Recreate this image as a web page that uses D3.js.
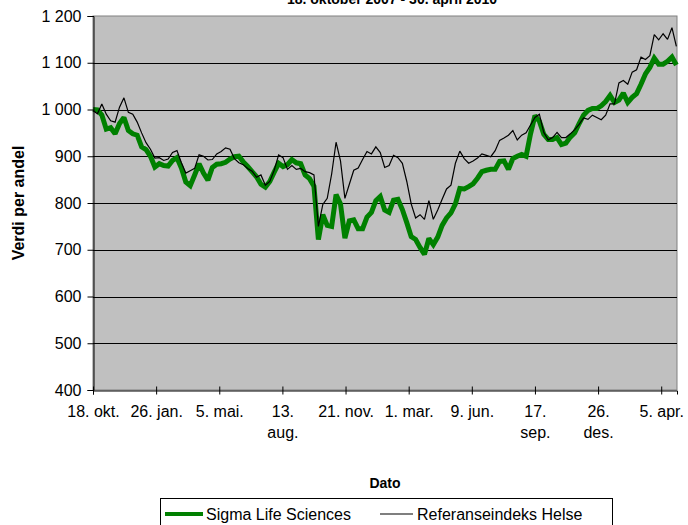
<!DOCTYPE html>
<html>
<head>
<meta charset="utf-8">
<script src="https://cdn.jsdelivr.net/npm/d3@7"></script>
<style>
  body { margin: 0; background: #fff; }
  svg { display: block; font-family: "Liberation Sans", Arial, sans-serif; }
</style>
</head>
<body>
<svg width="688" height="525"></svg>
<script>
// ukentlige verdier, start 18.10.2007
const startDato = "2007-10-18";
const sluttDato = "2010-04-30";

const sigma = [
  1000, 999, 988, 958, 961, 948, 970, 983, 955, 948,
  945, 920, 914, 900, 877, 884, 880, 879, 891, 897,
  875, 845, 837, 860, 884, 864, 849, 876, 883, 884,
  887, 894, 899, 900, 888, 878, 867, 856, 840, 834,
  846, 866, 885, 878, 882, 893, 886, 884, 860, 852,
  836, 722, 775, 752, 750, 818, 798, 725, 762, 764,
  745, 745, 770, 780, 805, 814, 785, 780, 806, 808,
  786, 758, 728, 722, 705, 690, 724, 711, 727, 752,
  768, 779, 798, 831, 830, 835, 841, 853, 867, 870,
  872, 872, 889, 890, 872, 895, 900, 904, 900, 948,
  987, 975, 947, 936, 936, 940, 925, 928, 941, 950,
  970, 988, 998, 1002, 1002, 1008, 1017, 1030, 1015, 1020,
  1035, 1015, 1026, 1034, 1054, 1076, 1090, 1110, 1097, 1097,
  1103, 1112, 1095
];

const referanse = [
  998, 991, 1012, 990, 976, 973, 1005, 1025, 994, 990,
  973, 950, 929, 915, 896, 897, 891, 894, 908, 912,
  886, 864, 869, 874, 903, 900, 892, 893, 905, 910,
  918, 915, 895, 886, 882, 874, 868, 855, 860, 838,
  846, 870, 903, 897, 872, 880, 872, 874, 867, 865,
  860, 750, 797, 810, 862, 930, 890, 810, 840, 870,
  875, 893, 910, 905, 920, 908, 876, 880, 902, 897,
  885, 846, 798, 768, 775, 765, 805, 765, 785, 808,
  830, 838, 885, 911, 895, 885, 890, 896, 905, 902,
  899, 912, 934, 939, 945, 955, 935, 945, 950, 967,
  983, 990, 951, 935, 940, 951, 940, 940, 948, 957,
  968, 982, 979, 988, 983, 978, 988, 1012, 1012, 1057,
  1062, 1054, 1080, 1085, 1112, 1107, 1115, 1160, 1149, 1162,
  1150, 1175, 1135
];

const xTickDatoer = ["2007-10-18", "2008-01-26", "2008-05-05", "2008-08-13", "2008-11-21",
                     "2009-03-01", "2009-06-09", "2009-09-17", "2009-12-26", "2010-04-05"];
const xTickTekst = [["18. okt."], ["26. jan."], ["5. mai."], ["13.", "aug."], ["21. nov."],
                    ["1. mar."], ["9. jun."], ["17.", "sep."], ["26.", "des."], ["5. apr."]];
const yTicks = [400, 500, 600, 700, 800, 900, 1000, 1100, 1200];
const yTickTekst = ["400", "500", "600", "700", "800", "900", "1 000", "1 100", "1 200"];

const serier = [
  { navn: "Sigma Life Sciences", verdier: sigma, farge: "#008000", bredde: 5 },
  { navn: "Referanseindeks Helse", verdier: referanse, farge: "#000000", bredde: 1.2 }
];

const parse = d3.timeParse("%Y-%m-%d");
const datoer = d3.timeDay.range(parse(startDato), parse(sluttDato), 7);

const svg = d3.select("svg");
const area = { left: 93, right: 677, top: 16, bottom: 390 };

const scX = d3.scaleTime()
    .domain([parse(startDato), parse(sluttDato)])
    .range([area.left, area.right]);
const scY = d3.scaleLinear()
    .domain([400, 1200])
    .range([area.bottom, area.top]);

// tittel (delvis utenfor bildet, som i originalen)
svg.append("text")
    .attr("x", 392).attr("y", 4)
    .attr("text-anchor", "middle")
    .style("font-weight", "bold").style("font-size", "14px")
    .text("18. oktober 2007 - 30. april 2010");

// plottområde
svg.append("rect")
    .attr("x", area.left).attr("y", area.top)
    .attr("width", area.right - area.left).attr("height", area.bottom - area.top)
    .attr("fill", "#c0c0c0").attr("stroke", "#808080");

svg.append("g")
    .selectAll("line")
    .data(yTicks.slice(1, -1)).enter()
    .append("line")
    .attr("x1", area.left).attr("x2", area.right)
    .attr("y1", d => Math.round(scY(d)) + 0.5).attr("y2", d => Math.round(scY(d)) + 0.5)
    .attr("stroke", "#000");

// linjer
const linje = d3.line()
    .x((d, i) => scX(datoer[i]))
    .y(d => scY(d));

for (let s of serier) {
    svg.append("path")
        .attr("d", linje(s.verdier))
        .attr("fill", "none")
        .attr("stroke", s.farge)
        .attr("stroke-width", s.bredde)
        .attr("stroke-linejoin", "miter")
        .attr("stroke-miterlimit", 2);
}

// akser
const axisX = d3.axisBottom(scX)
    .tickValues(xTickDatoer.map(parse))
    .tickSize(4)
    .tickFormat("");
const gx = svg.append("g")
    .attr("transform", `translate(0, ${area.bottom + 0.5})`)
    .call(axisX);
gx.select(".domain").attr("stroke", "#000");
gx.selectAll(".tick line").attr("y1", -4).attr("y2", 4).attr("stroke", "#000");
gx.selectAll(".tick").each(function(d, i) {
    const t = d3.select(this).append("text")
        .attr("fill", "#000")
        .style("font-size", "16px")
        .attr("text-anchor", "middle")
        .attr("y", 26);
    xTickTekst[i].forEach((l, k) => {
        t.append("tspan").attr("x", 0).attr("dy", k === 0 ? 0 : 21).text(l);
    });
});

const axisY = d3.axisLeft(scY)
    .tickValues(yTicks)
    .tickSize(6)
    .tickPadding(6)
    .tickFormat((d, i) => yTickTekst[i]);
const gy = svg.append("g")
    .attr("transform", `translate(${area.left + 0.5}, 0)`)
    .call(axisY);
gy.select(".domain").attr("stroke", "#000");
gy.selectAll(".tick line").attr("stroke", "#000");
gy.selectAll(".tick text")
    .attr("fill", "#000")
    .style("font-size", "16px")
    .style("font-family", "'Liberation Sans', Arial, sans-serif");

// aksetitler
svg.append("text")
    .attr("x", (area.left + area.right) / 2).attr("y", 488)
    .attr("text-anchor", "middle")
    .style("font-weight", "bold").style("font-size", "14px")
    .text("Dato");

svg.append("text")
    .attr("transform", `translate(24, ${(area.top + area.bottom) / 2}) rotate(-90)`)
    .attr("text-anchor", "middle")
    .style("font-weight", "bold").style("font-size", "16px")
    .text("Verdi per andel");

// forklaring
const leg = svg.append("g");
leg.append("rect")
    .attr("x", 160.5).attr("y", 498.5)
    .attr("width", 452).attr("height", 40)
    .attr("fill", "#fff").attr("stroke", "#000");

const legPos = [{ x1: 165, x2: 203, tx: 206 }, { x1: 380, x2: 413, tx: 417 }];
serier.forEach((s, i) => {
    leg.append("line")
        .attr("x1", legPos[i].x1).attr("x2", legPos[i].x2)
        .attr("y1", 514).attr("y2", 514)
        .attr("stroke", s.farge)
        .attr("stroke-width", i === 0 ? 4 : 1.2);
    leg.append("text")
        .attr("x", legPos[i].tx).attr("y", 520)
        .style("font-size", "16px")
        .text(s.navn);
});
</script>
</body>
</html>
